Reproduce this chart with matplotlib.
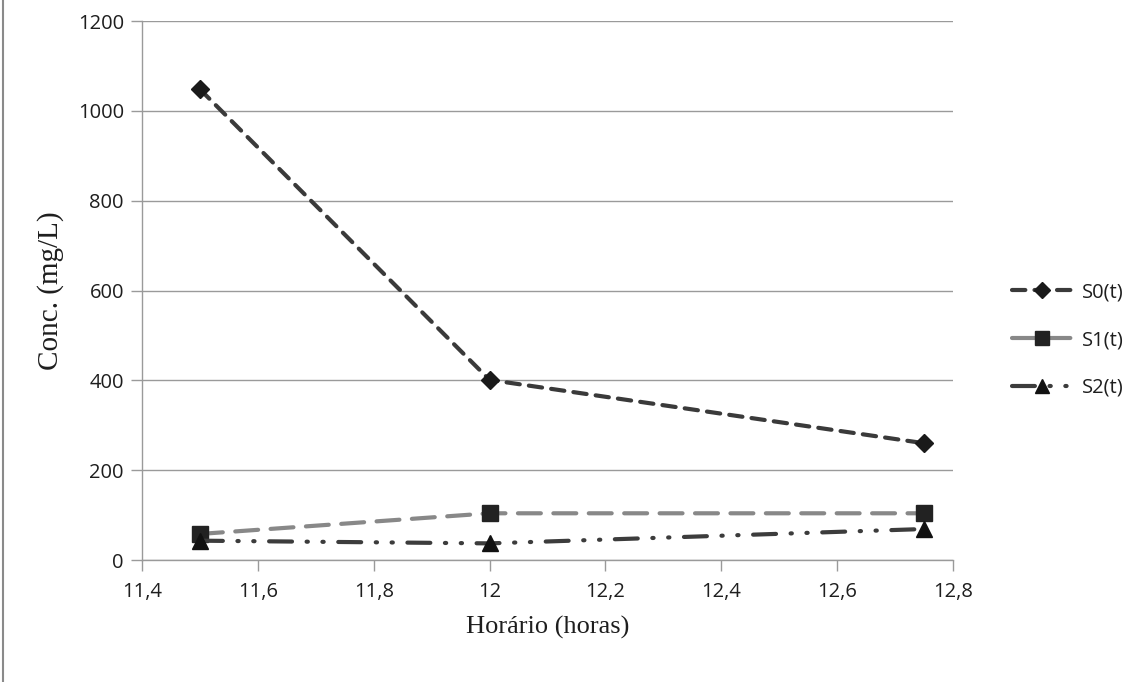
import matplotlib
matplotlib.use("Agg")
import matplotlib.pyplot as plt
from matplotlib.lines import Line2D

# Sampling times (hours) and concentrations (mg/L)
horas = [11.5, 12.0, 12.75]
s0 = [1048, 401, 260]
s1 = [58, 104, 104]
s2 = [43, 37, 69]

x_ticks = [11.4, 11.6, 11.8, 12.0, 12.2, 12.4, 12.6, 12.8]
x_tick_labels = ["11,4", "11,6", "11,8", "12", "12,2", "12,4", "12,6", "12,8"]
y_ticks = [0, 200, 400, 600, 800, 1000, 1200]

fig = plt.figure(figsize=(11.46, 6.82), dpi=100)
ax = fig.add_axes([142 / 1146, 1 - 560 / 682, (953 - 142) / 1146, (560 - 21) / 682])

tick_font = dict(family="Open Sans", size=14.5, color="#1e1e1e")

ax.plot(horas, s0, color="#3a3a3a", lw=3, dashes=(3.2, 2.2), marker="D",
        markersize=9, markerfacecolor="#1a1a1a", markeredgecolor="#1a1a1a",
        label="S0(t)", dash_capstyle="round")
ax.plot(horas, s1, color="#888888", lw=3, dashes=(5.5, 3), marker="s",
        markersize=12, markerfacecolor="#222222", markeredgecolor="#222222",
        label="S1(t)", dash_capstyle="round")
ax.plot(horas, s2, color="#3c3c3c", lw=3, dashes=(5.5, 3.5, 0.3, 3.5, 0.3, 3.5),
        marker="^", markersize=12, markerfacecolor="#111111",
        markeredgecolor="#111111", label="S2(t)", dash_capstyle="round")

ax.set_xlim(11.4, 12.8)
ax.set_ylim(0, 1200)
ax.set_xticks(x_ticks)
ax.set_xticklabels(x_tick_labels, fontdict=tick_font)
ax.set_yticks(y_ticks)
ax.set_yticklabels([str(v) for v in y_ticks], fontdict=tick_font)

ax.grid(axis="y", color="#9a9a9a", lw=1)
ax.set_axisbelow(True)
for side in ("top", "right"):
    ax.spines[side].set_visible(False)
for side in ("left", "bottom"):
    ax.spines[side].set_color("#9a9a9a")
    ax.spines[side].set_linewidth(1)
ax.tick_params(axis="both", direction="out", length=8, width=1, color="#9a9a9a")
ax.tick_params(axis="y", pad=5)
ax.tick_params(axis="x", pad=8)

ax.set_xlabel("Horário (horas)", family="Liberation Serif", size=19,
              color="#1e1e1e", labelpad=10)
ax.set_ylabel("Conc. (mg/L)", family="Liberation Serif", size=21,
              color="#1e1e1e", labelpad=10)

leg = fig.legend(handles=ax.get_lines(), loc="center left",
                 bbox_to_anchor=(1012 / 1146, 1 - 340 / 682), frameon=False,
                 prop=dict(family="Open Sans", size=14.5), handlelength=3.0,
                 labelspacing=1.38, handletextpad=0.45, markerscale=0.85,
                 borderaxespad=0, borderpad=0)
for t in leg.get_texts():
    t.set_color("#1e1e1e")

# Thin frame line at the left edge of the image
fig.add_artist(Line2D([3 / 1146, 3 / 1146], [0, 1], color="#8a8a8a", lw=1.5,
                      transform=fig.transFigure))

fig.savefig("out.png", dpi=100, facecolor="white")
